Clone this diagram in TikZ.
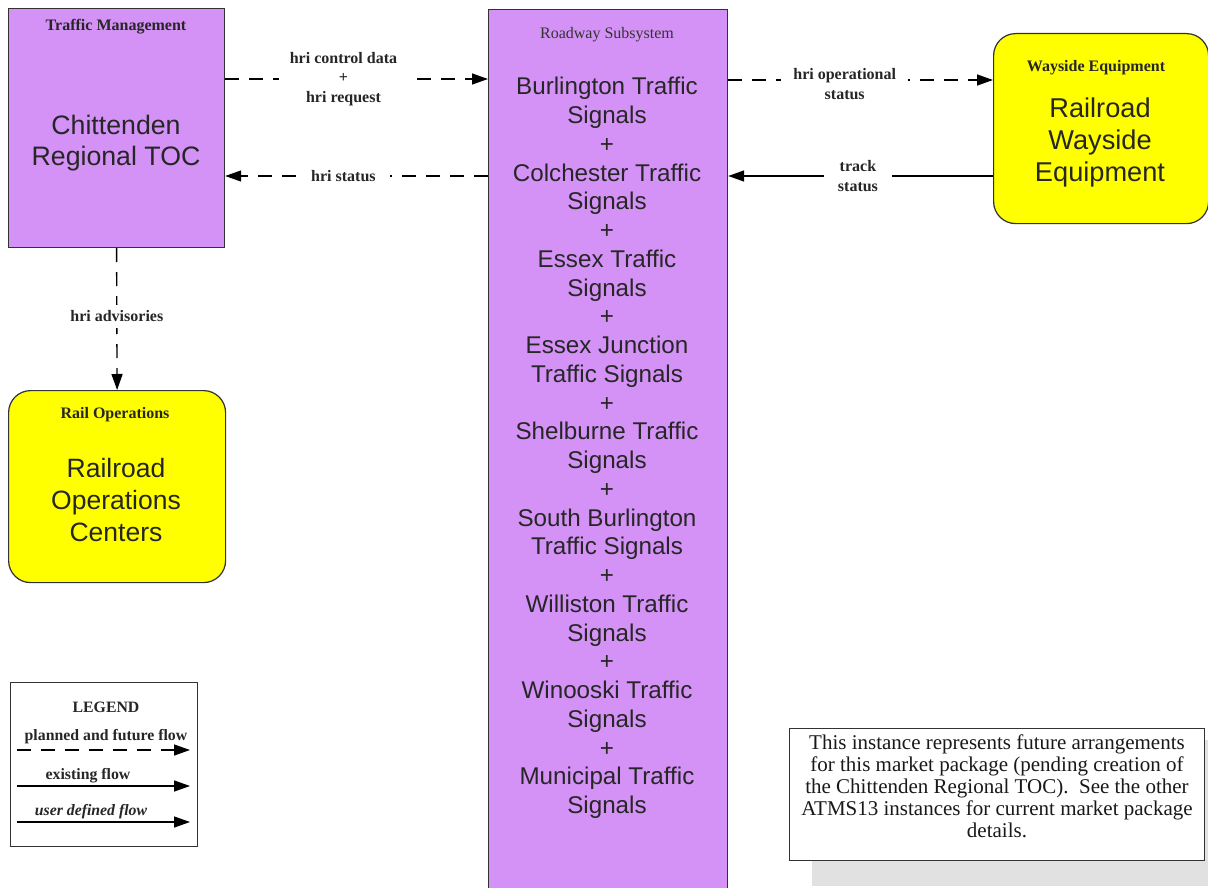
\documentclass[tikz,border=0pt]{standalone}
\usepackage{fontspec}
\setmainfont{Liberation Serif}
\newfontfamily\arialfont{Liberation Sans}
\usetikzlibrary{arrows.meta}
\definecolor{boxpurple}{RGB}{212,146,246}
\definecolor{boxyellow}{RGB}{255,255,0}
\definecolor{edge}{RGB}{50,50,50}
\definecolor{shadowgray}{RGB}{225,225,225}
\tikzset{
  x=1pt, y=-1pt,
  purplebox/.style={draw=edge, line width=1.2pt, fill=boxpurple, rectangle, inner sep=0pt},
  yellowbox/.style={draw=edge, line width=1.2pt, fill=boxyellow, rectangle, rounded corners=22pt, inner sep=0pt},
  titletxt/.style={font=\fontsize{16}{18}\selectfont\bfseries, text=black!85},
  maintxt/.style={font=\arialfont\fontsize{26.5}{31.5}\selectfont, align=center, text=black!85},
  flowlabel/.style={font=\fontsize{16}{19.5}\selectfont\bfseries, fill=white, align=center, inner ysep=2pt, inner xsep=11pt, text=black!85},
  flowbase/.style={line width=1.4pt, -{Triangle[length=16pt,width=11pt]}},
  planned/.style={flowbase, dash pattern=on 14pt off 10pt},
  existing/.style={flowbase},
  legtxt/.style={font=\fontsize{15.8}{18}\selectfont\bfseries, text=black!85},
}
\begin{document}
\begin{tikzpicture}
\useasboundingbox (0,0) rectangle (1208,888);
\clip (0,0) rectangle (1208,888);
\fill[white] (0,0) rectangle (1208,888);

% Traffic Management
\node[purplebox, minimum width=216pt, minimum height=239pt, anchor=north west] (tm) at (8,8) {};
\node[titletxt] (tmt) at (116,27) {Traffic Management};
\node[maintxt, font=\arialfont\fontsize{26.7}{31}\selectfont] (tmm) at (116,143) {Chittenden\\Regional TOC};

% Roadway Subsystem
\node[purplebox, minimum width=239pt, minimum height=900pt, anchor=north west] (rs) at (488,9) {};
\node[font=\fontsize{16}{18}\selectfont, text=black!80] (rst) at (607,35) {Roadway Subsystem};
\node[font=\arialfont\fontsize{24.2}{28.75}\selectfont, align=center, text=black!85] (rsm) at (607,448)
 {Burlington Traffic\\Signals\\+\\Colchester Traffic\\Signals\\+\\Essex Traffic\\Signals\\+\\Essex Junction\\Traffic Signals\\+\\Shelburne Traffic\\Signals\\+\\South Burlington\\Traffic Signals\\+\\Williston Traffic\\Signals\\+\\Winooski Traffic\\Signals\\+\\Municipal Traffic\\Signals};

% Wayside Equipment
\node[yellowbox, minimum width=215pt, minimum height=190pt, anchor=north west] (we) at (993,33) {};
\node[titletxt] (wet) at (1096,68) {Wayside Equipment};
\node[maintxt, font=\arialfont\fontsize{27.2}{32}\selectfont] (wem) at (1100,142) {Railroad\\Wayside\\Equipment};

% Rail Operations
\node[yellowbox, minimum width=217pt, minimum height=192pt, anchor=north west] (ro) at (8,390) {};
\node[titletxt] (rot) at (115,415) {Rail Operations};
\node[maintxt, font=\arialfont\fontsize{26.5}{32}\selectfont] (rom) at (116,500) {Railroad\\Operations\\Centers};

% Flows
\draw[planned] ([yshift=-71pt]tm.north east) -- node[flowlabel, pos=0.45] (l1) {hri control data\\+\\hri request} ([yshift=-70pt]rs.north west);
\draw[planned] ([yshift=-167pt]rs.north west) -- node[flowlabel, pos=0.55, inner xsep=14pt] (l2) {hri status} ([yshift=-168pt]tm.north east);
\draw[planned] ([yshift=-71pt]rs.north east) -- node[flowlabel, pos=0.44, yshift=-4pt, inner xsep=12pt] (l3) {hri operational\\status} ([yshift=-47pt]we.north west);
\draw[existing] ([yshift=-143pt]we.north west) -- node[flowlabel, pos=0.51, inner xsep=14pt] (l4) {track\\status} ([yshift=-167pt]rs.north east);
\draw[planned] (tm.south) -- node[flowlabel, pos=0.48, inner xsep=2pt, inner ysep=6pt] (l5) {hri advisories} (ro.north);

% Legend
\node[draw=edge, line width=1.2pt, fill=white, minimum width=187pt, minimum height=164pt, anchor=north west] (leg) at (10,682) {};
\node[legtxt] (legt) at (106,707) {LEGEND};
\node[legtxt] (legp) at (106,737) {planned and future flow};
\coordinate (pa) at (17,750); \coordinate (pb) at (190,750);
\draw[planned] (pa) -- (pb);
\node[legtxt] (lege) at (88,776) {existing flow};
\coordinate (ea) at (17,786); \coordinate (eb) at (190,786);
\draw[existing] (ea) -- (eb);
\node[legtxt, font=\fontsize{15.8}{18}\selectfont\bfseries\itshape] (legu) at (91,812) {user defined flow};
\coordinate (ua) at (17,822); \coordinate (ub) at (190,822);
\draw[existing] (ua) -- (ub);

% Note
\fill[shadowgray] (812,740) rectangle (1212,886);
\node[draw=edge, line width=1.2pt, fill=white, minimum width=415pt, minimum height=132pt, anchor=north west] (note) at (789,728) {};
\node[font=\fontsize{21}{22}\selectfont, align=center, text=black!90] (notet) at (997,786)
 {This instance represents future arrangements\\for this market package (pending creation of\\the Chittenden Regional TOC).\ \ See the other\\ATMS13 instances for current market package\\details.};
\end{tikzpicture}
\end{document}
